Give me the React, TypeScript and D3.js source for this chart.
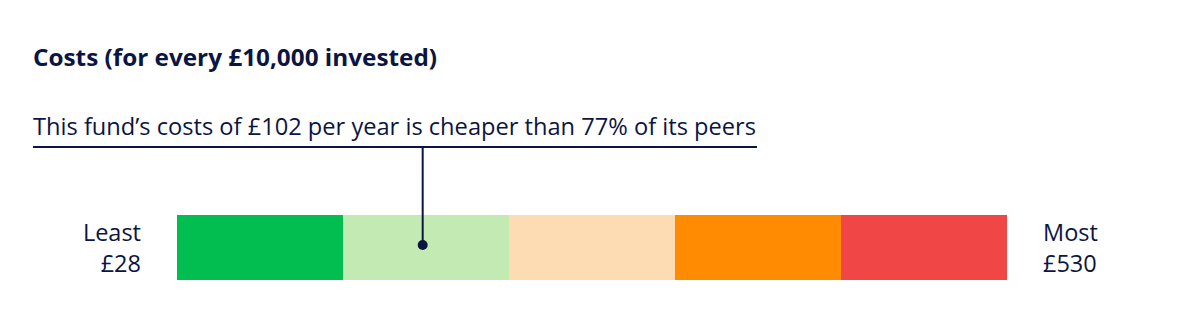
import React from "react";
import * as d3 from "d3";

const title = "Costs (for every £10,000 invested)";
const caption = "This fund’s costs of £102 per year is cheaper than 77% of its peers";
const bandColors = ["#02bd50", "#c4eab3", "#fddcb4", "#fe8b02", "#f04646"];
const bandIndex = [0, 1, 2, 3, 4];
const markerValue = 1.48; // position on the 0..5 quintile scale
const leftLabels = ["Least", "£28"];
const rightLabels = ["Most", "£530"];

const W = 1184;
const H = 325;
const ink = "#0b1541";
const font = "'Open Sans', 'Noto Sans', sans-serif";

export default function App() {
  const x = d3.scaleLinear().domain([0, 5]).range([177, 1007]);
  const barTop = 215;
  const barH = 65;
  const mx = x(markerValue);
  return (
    <svg width={W} height={H} style={{ position: "absolute", left: 0, top: 0 }} fontFamily={font}>
      <text x={33} y={66} fontSize={24} fontWeight={700} fill={ink} textLength={404} lengthAdjust="spacingAndGlyphs">{title}</text>
      <text x={33} y={135} fontSize={23.5} fill={ink} textLength={723} lengthAdjust="spacingAndGlyphs">{caption}</text>
      <line x1={33} x2={757} y1={147} y2={147} stroke={ink} strokeWidth={2} />
      {bandIndex.map((i) => (
        <rect key={i} x={x(i)} y={barTop} width={x(i + 1) - x(i)} height={barH} fill={bandColors[i]} />
      ))}
      <line x1={mx} x2={mx} y1={147} y2={245} stroke={ink} strokeWidth={2} />
      <circle cx={mx} cy={245} r={5} fill={ink} />
      {leftLabels.map((t, i) => (
        <text key={t} x={141} y={241 + i * 31} fontSize={23.5} fill={ink} textAnchor="end">{t}</text>
      ))}
      {rightLabels.map((t, i) => (
        <text key={t} x={1043} y={241 + i * 31} fontSize={23.5} fill={ink}>{t}</text>
      ))}
    </svg>
  );
}
